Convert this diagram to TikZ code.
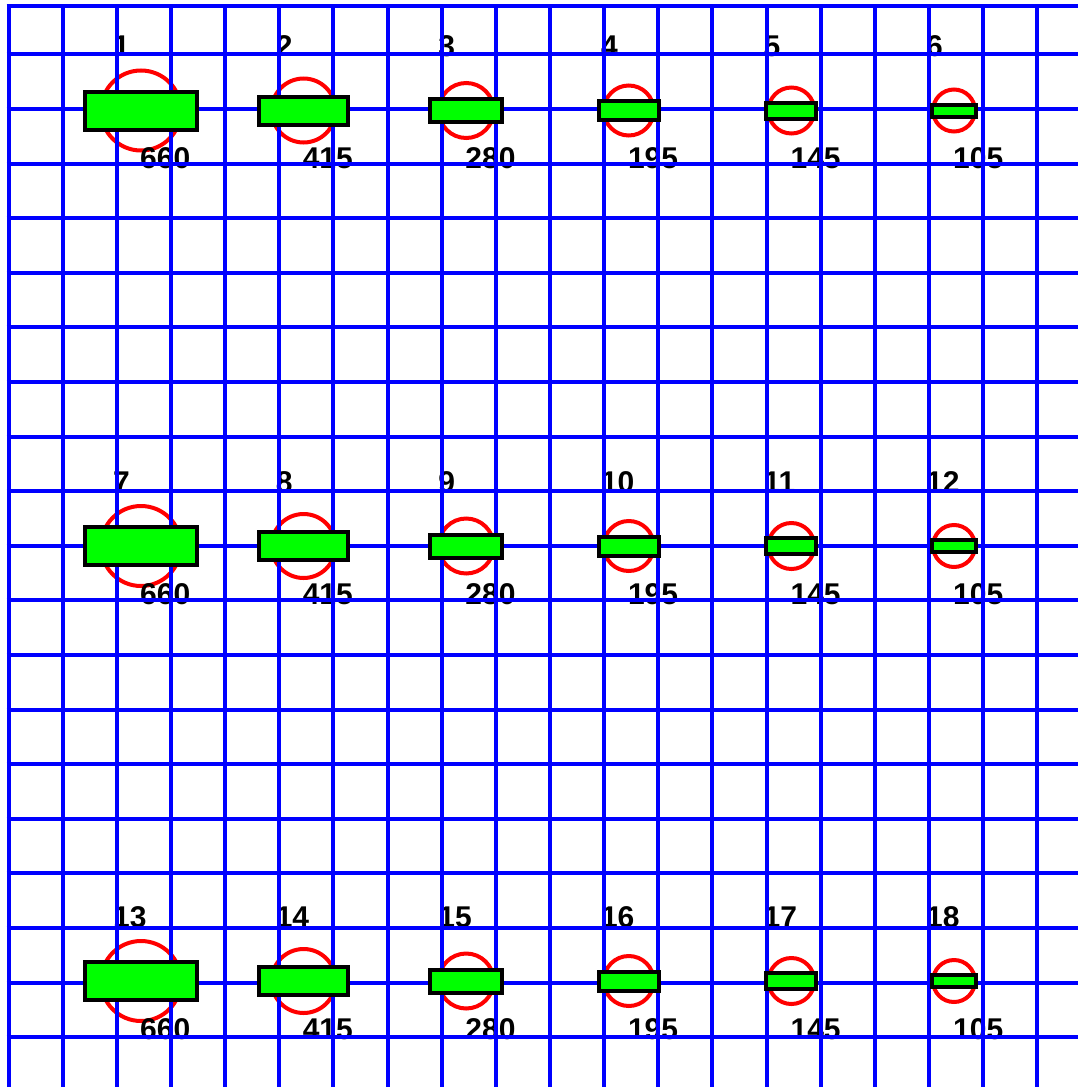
\documentclass[tikz,border=0pt]{standalone}
\usepackage{fontspec}
\setmainfont{Liberation Sans}
\definecolor{gridblue}{RGB}{0,0,255}
\definecolor{ringred}{RGB}{255,0,0}
\definecolor{barfill}{RGB}{0,255,0}
\begin{document}
\begin{tikzpicture}[x=1pt,y=-1pt,
  ring/.style={circle,draw=ringred,line width=4pt,inner sep=0pt,minimum size=#1},
  bar/.style={rectangle,draw=black,fill=barfill,line width=4pt,inner sep=0pt},
  lbl/.style={inner sep=0pt,text=black,font=\fontsize{30}{36}\selectfont\bfseries},
  gridline/.style={draw=gridblue,line width=4pt}]
\useasboundingbox[fill=white] (0,0) rectangle (1078,1087);
% rings and labels
\foreach \r/\cy in {0/110.5,1/546,2/981}{
  \foreach \c/\val/\dia in {0/660/80,1/415/64,2/280/55,3/195/50,4/145/46,5/105/42}{
    \pgfmathsetmacro\cx{141+162.6*\c}
    \pgfmathtruncatemacro\idx{\r*6+\c+1}
    \node[ring=\dia] (circ-\idx) at (\cx,\cy) {};
    \node[lbl,anchor=base west] (idx-\idx) at (\cx-28,\cy-54) {\idx};
    \node[lbl,anchor=base west] (val-\idx) at (\cx-1,\cy+58) {\val};
  }
}
% grid
\foreach \k in {0,...,19}
  \draw[gridline] ({8.5+54.15*\k},4) -- ({8.5+54.15*\k},1087);
\draw[gridline] (6.5,6) -- (1078,6);
\foreach \k in {-1,...,17}
  \draw[gridline] (6.5,{109+54.6*\k}) -- (1078,{109+54.6*\k});
% bars
\foreach \r/\cy in {0/110.5,1/546,2/981}{
  \foreach \c/\bw/\bh in {0/112/38,1/89/28,2/72/23,3/60/19,4/50/16,5/44/12}{
    \pgfmathsetmacro\cx{141+162.6*\c}
    \pgfmathtruncatemacro\idx{\r*6+\c+1}
    \node[bar,minimum width=\bw,minimum height=\bh] (box-\idx) at (\cx,\cy) {};
  }
}
\end{tikzpicture}
\end{document}
